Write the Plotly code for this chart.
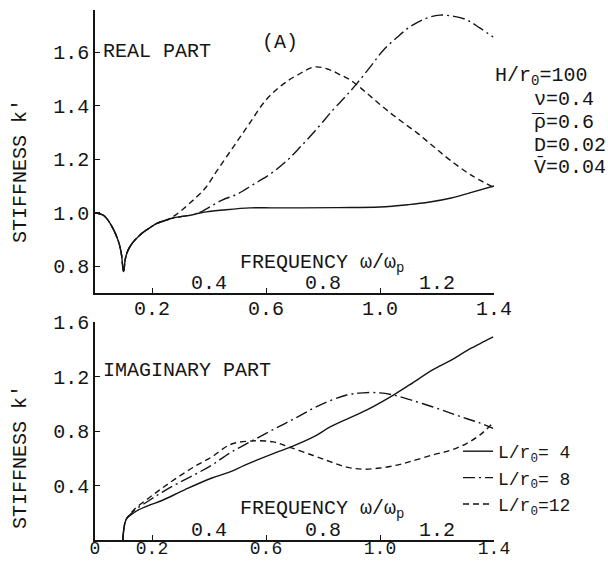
import plotly.graph_objects as go

# ---------------- data ----------------
# Real part (top panel)
re4_x = [0, 0.03, 0.053, 0.08, 0.092, 0.1, 0.107, 0.116, 0.13, 0.158, 0.19, 0.217, 0.25, 0.274, 0.3, 0.333,
         0.36, 0.39, 0.45, 0.544, 0.62, 0.72, 0.85, 1.0, 1.1, 1.175, 1.25, 1.315, 1.4]
re4_y = [1.0, 0.99, 0.96, 0.90, 0.85, 0.78, 0.83, 0.86, 0.885, 0.917, 0.942, 0.96, 0.972, 0.98, 0.985, 0.99,
         0.997, 1.003, 1.01, 1.018, 1.018, 1.018, 1.019, 1.021, 1.03, 1.04, 1.055, 1.074, 1.10]

re8_x = [0, 0.03, 0.053, 0.08, 0.092, 0.1, 0.107, 0.116, 0.13, 0.158, 0.19, 0.217, 0.25, 0.274, 0.3, 0.333,
         0.36, 0.40, 0.446, 0.5, 0.555, 0.62, 0.674, 0.72, 0.78, 0.835, 0.88, 0.92, 0.97, 1.01, 1.06, 1.105,
         1.16, 1.21, 1.26, 1.305, 1.35, 1.397]
re8_y = [1.0, 0.99, 0.96, 0.90, 0.85, 0.78, 0.83, 0.86, 0.885, 0.917, 0.942, 0.96, 0.972, 0.98, 0.985, 0.99,
         0.997, 1.02, 1.047, 1.07, 1.105, 1.148, 1.195, 1.245, 1.315, 1.384, 1.435, 1.484, 1.55, 1.605, 1.655,
         1.694, 1.725, 1.738, 1.733, 1.72, 1.69, 1.656]

re12_x = [0, 0.03, 0.053, 0.08, 0.092, 0.1, 0.107, 0.116, 0.13, 0.158, 0.19, 0.217, 0.25, 0.274, 0.3, 0.333,
          0.36, 0.39, 0.43, 0.485, 0.54, 0.60, 0.66, 0.71, 0.77, 0.82, 0.86, 0.895, 0.95, 1.01, 1.07, 1.13,
          1.19, 1.245, 1.32, 1.397]
re12_y = [1.0, 0.99, 0.96, 0.90, 0.85, 0.78, 0.83, 0.86, 0.885, 0.917, 0.942, 0.96, 0.972, 0.985, 1.005, 1.036,
          1.062, 1.096, 1.16, 1.245, 1.33, 1.421, 1.48, 1.514, 1.544, 1.535, 1.515, 1.496, 1.45, 1.395, 1.345,
          1.298, 1.245, 1.197, 1.14, 1.096]

# Imaginary part (bottom panel)
im4_x = [0.098, 0.1, 0.105, 0.112, 0.123, 0.14, 0.151, 0.19, 0.235, 0.316, 0.41, 0.474, 0.526, 0.632, 0.684,
         0.77, 0.825, 0.954, 1.047, 1.105, 1.186, 1.25, 1.305, 1.35, 1.397]
im4_y = [0.0, 0.06, 0.125, 0.16, 0.18, 0.205, 0.22, 0.255, 0.29, 0.37, 0.455, 0.50, 0.55, 0.64, 0.68,
         0.76, 0.83, 0.955, 1.064, 1.14, 1.25, 1.32, 1.39, 1.44, 1.49]

im8_x = [0.098, 0.1, 0.105, 0.112, 0.123, 0.14, 0.19, 0.235, 0.29, 0.35, 0.41, 0.474, 0.544, 0.625, 0.708,
         0.789, 0.883, 0.94, 1.0, 1.047, 1.105, 1.186, 1.25, 1.305, 1.35, 1.397]
im8_y = [0.0, 0.06, 0.125, 0.16, 0.185, 0.22, 0.29, 0.35, 0.415, 0.48, 0.55, 0.64, 0.72, 0.81, 0.90,
         0.99, 1.064, 1.08, 1.08, 1.064, 1.03, 0.976, 0.93, 0.89, 0.86, 0.82]

im12_x = [0.098, 0.1, 0.105, 0.112, 0.123, 0.14, 0.19, 0.235, 0.29, 0.35, 0.41, 0.474, 0.544, 0.625, 0.684,
          0.766, 0.825, 0.883, 0.94, 1.0, 1.06, 1.105, 1.186, 1.25, 1.305, 1.35, 1.397]
im12_y = [0.0, 0.06, 0.125, 0.16, 0.19, 0.23, 0.31, 0.38, 0.46, 0.54, 0.61, 0.70, 0.726, 0.72, 0.68,
          0.62, 0.575, 0.535, 0.52, 0.528, 0.55, 0.575, 0.625, 0.66, 0.71, 0.77, 0.86]

series_names = ["L/r<sub>0</sub>= 4", "L/r<sub>0</sub>= 8", "L/r<sub>0</sub>=12"]

x_ticks_below = [0.2, 0.6, 1.0, 1.4]
x_ticks_below_bottom = [0, 0.2, 0.6, 1.0, 1.4]
x_labels_inside = [0.4, 0.8, 1.2]
y_ticks_top = [0.8, 1.0, 1.2, 1.4, 1.6]
y_ticks_bottom = [0.4, 0.8, 1.2, 1.6]

params = ["H/r<sub>0</sub>=100", "ν=0.4", "ρ=0.6", "D=0.02", "V̄=0.04"]

# ---------------- layout helpers ----------------
W, H = 608, 561
ML, MR, MT, MB = 95, 114, 10, 21
PW, PH = W - ML - MR, H - MT - MB


def px(xp):
    return (xp - ML) / PW


def py(yp):
    return (H - MB - yp) / PH


FONT = "Liberation Mono"
INK = "#151515"
FS = 20

styles = [dict(color=INK, width=1.4, dash="solid"),
          dict(color=INK, width=1.4, dash="12px,4px,2px,4px"),
          dict(color=INK, width=1.4, dash="6px,4px")]

fig = go.Figure()
top = [(re4_x, re4_y), (re8_x, re8_y), (re12_x, re12_y)]
bot = [(im4_x, im4_y), (im8_x, im8_y), (im12_x, im12_y)]
for i, (xx, yy) in enumerate(top):
    fig.add_trace(go.Scatter(x=xx, y=yy, mode="lines", line=styles[i], xaxis="x", yaxis="y",
                             showlegend=False, line_shape="spline", hoverinfo="skip"))
for i, (xx, yy) in enumerate(bot):
    fig.add_trace(go.Scatter(x=xx, y=yy, mode="lines", line=styles[i], xaxis="x2", yaxis="y2",
                             name=series_names[i], showlegend=True, line_shape="spline", hoverinfo="skip"))

axis_common = dict(showline=True, linecolor=INK, linewidth=1.5, showgrid=False, zeroline=False,
                   ticks="inside", ticklen=5, tickwidth=1.2, tickcolor=INK, mirror=False,
                   automargin=False, tickfont=dict(family=FONT, size=FS, color=INK))

top_dom = [py(293), 1.0]
bot_dom = [0.0, py(322)]

fig.update_layout(
    width=W, height=H, margin=dict(l=ML, r=MR, t=MT, b=MB, autoexpand=False),
    paper_bgcolor="white", plot_bgcolor="white",
    font=dict(family=FONT, size=FS, color=INK),
    xaxis=dict(axis_common, range=[0, 1.4], domain=[0, 1], anchor="y", ticklabelstandoff=-4,
               tickvals=x_ticks_below, ticktext=[f"{v:.1f}" for v in x_ticks_below]),
    yaxis=dict(axis_common, range=[0.7, 1.757], domain=top_dom, anchor="x",
               tickvals=y_ticks_top, ticktext=[f"{v:.1f}" for v in y_ticks_top]),
    xaxis2=dict(axis_common, range=[0, 1.4], domain=[0, 1], anchor="y2", ticklabelstandoff=-9,
                tickfont=dict(family=FONT, size=18, color=INK),
                tickvals=x_ticks_below_bottom,
                ticktext=["0"] + [f"{v:.1f}" for v in x_ticks_below_bottom[1:]]),
    yaxis2=dict(axis_common, range=[0, 1.6], domain=bot_dom, anchor="x2",
                tickvals=y_ticks_bottom, ticktext=[f"{v:.1f}" for v in y_ticks_bottom]),
    legend=dict(x=px(458), y=py(433), xanchor="left", yanchor="top", bgcolor="rgba(0,0,0,0)",
                font=dict(family=FONT, size=18, color=INK), tracegroupgap=0),
    showlegend=True,
)

ann = []


def text(t, x, y, xanchor="left", xref="paper", angle=0, size=FS):
    ann.append(dict(text=t, x=x, y=y, xref=xref, yref="paper", xanchor=xanchor, yanchor="middle",
                    showarrow=False, textangle=angle, font=dict(family=FONT, size=size, color=INK)))


text("(A)", px(280), py(43), "center")
text("REAL PART", px(101), py(52))
text("FREQUENCY ω/ω<sub>p</sub>", px(238), py(263))
text("IMAGINARY PART", px(101), py(370))
text("FREQUENCY ω/ω<sub>p</sub>", px(238), py(509))
text("STIFFNESS k'", px(20), py(171), "center", angle=-90)
text("STIFFNESS k'", px(20), py(457), "center", angle=-90)
param_pos = [(493, 77), (532, 100), (532, 123), (532, 145), (532, 167)]
for t, (xp, yp) in zip(params, param_pos):
    text(t, px(xp), py(yp))
# bar over rho
text("¯", px(538), py(124), "center")
for v in x_labels_inside:
    text(f"{v:.1f}", v, py(283), "center", xref="x")
    text(f"{v:.1f}", v, py(530), "center", xref="x2")

fig.update_layout(annotations=ann)
fig.write_html("out.html")
